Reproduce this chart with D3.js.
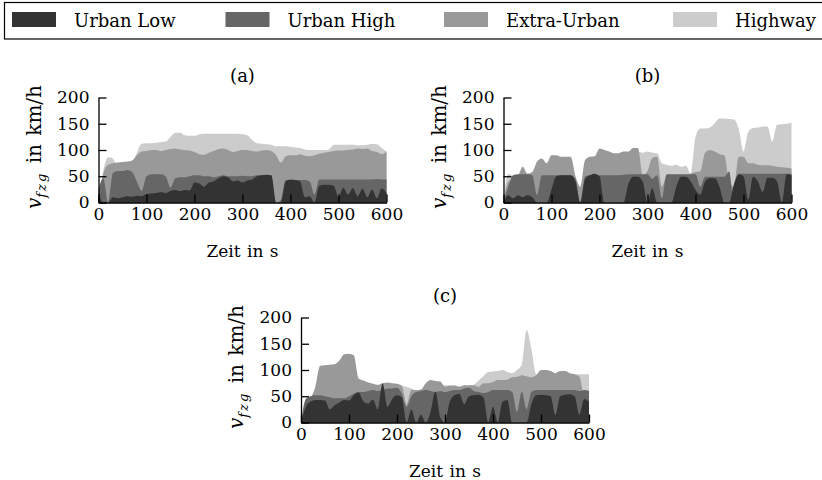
<!DOCTYPE html>
<html>
<head>
<meta charset="utf-8">
<script src="https://d3js.org/d3.v7.min.js"></script>
<style>
  body { margin: 0; background: #fff; }
  svg text { font-family: "DejaVu Serif", serif; fill: #000; }
  .axis .tick text { font-size: 17px; }
  .axis path, .axis line { stroke: #000; stroke-width: 1.3px; }
</style>
</head>
<body>
<svg id="chart" width="822" height="480"></svg>
<script>
// time grid (s), one sample every 10 s
const timeS = [0,10,20,30,40,50,60,70,80,90,100,110,120,130,140,150,160,170,180,190,
  200,210,220,230,240,250,260,270,280,290,300,310,320,330,340,350,360,370,380,390,
  400,410,420,430,440,450,460,470,480,490,500,510,520,530,540,550,560,570,580,590,600];

const seriesNames = ["Urban Low", "Urban High", "Extra-Urban", "Highway"];
const seriesColors = ["#333333", "#666666", "#999999", "#cccccc"];
const xTicks = [0, 100, 200, 300, 400, 500, 600];
const yTicks = [0, 50, 100, 150, 200];

// (a) speed in km/h
const aUrbanLow = [18,0,0,10,8,10,12,11,13,12, 16,17,18,20,18,22,24,22,24,23, 38,36,30,38,40,46,50,48,40,42,
  38,42,44,50,52,53,52,0,0,40, 44,43,40,10,12,0,32,34,34,32, 10,28,15,27,12,26,10,25,8,27, 18];
const aUrbanHigh = [25,46,0,56,60,60,62,58,40,22, 50,54,54,54,50,28,46,48,48,50, 52,52,50,50,48,50,52,50,50,50,
  51,50,50,52,52,51,50,0,5,43, 43,43,43,43,40,15,44,44,44,44, 44,44,44,44,44,44,44,44,45,44, 44];
const aExtraUrban = [0,55,72,75,76,77,78,80,90,97, 98,100,100,98,100,102,103,101,100,99, 96,92,91,95,98,102,103,100,96,98,
  100,100,98,97,99,100,98,90,76,88, 90,90,92,89,88,90,93,95,96,98, 99,99,100,101,103,102,103,98,96,92, 97];
const aHighway = [0,60,86,84,65,68,70,74,95,112, 113,113,114,115,116,125,133,133,128,127, 127,130,131,131,131,131,131,131,131,131,
  130,128,119,113,112,111,110,107,107,107, 106,105,104,101,100,100,100,100,101,110, 110,110,110,110,109,109,110,112,111,104, 97];

// (b)
const bUrbanLow = [0,14,8,14,10,14,10,0,0,0, 25,50,52,52,52,40,0,45,52,55, 50,0,0,0,0,0,35,49,49,40,
  0,27,0,0,0,0,30,49,49,40, 24,15,40,46,46,30,0,0,35,54, 50,5,49,40,20,47,47,40,0,54, 52];
const bUrbanHigh = [0,30,52,54,54,54,52,14,52,52, 52,52,52,52,52,45,0,50,52,52, 52,52,52,52,52,53,54,54,54,54,
  54,45,52,8,54,54,54,54,54,54, 54,30,49,49,49,49,49,59,0,55, 55,55,55,55,55,55,55,55,55,55, 55];
const bExtraUrban = [0,40,45,50,68,55,58,78,84,75, 90,90,87,87,87,50,30,81,87,88, 103,100,97,94,94,97,97,104,104,52,
  60,85,87,30,50,50,50,50,50,55, 58,59,95,100,97,92,90,40,30,87, 87,75,75,72,71,71,70,68,67,66, 65];
const bHighway = [0,55,50,45,50,50,55,60,65,70, 70,72,74,76,76,45,20,70,80,82, 85,85,85,88,88,90,92,95,96,95,
  97,95,94,75,72,70,72,68,70,55, 125,141,141,143,151,160,160,159,158,140, 97,135,142,143,145,145,116,148,149,150, 152];

// (c)
const cUrbanLow = [0,30,40,43,43,42,25,33,38,43, 42,52,57,40,36,44,25,75,30,45, 52,48,0,25,0,15,0,20,59,10,
  0,40,52,55,35,50,52,53,48,0, 30,0,40,43,0,0,0,0,35,52, 53,52,50,14,50,53,54,50,15,45, 40];
const cUrbanHigh = [0,45,50,52,52,50,48,46,46,46, 50,55,58,58,60,62,60,62,65,65, 66,55,30,50,58,60,62,60,58,60,
  58,60,62,62,65,66,60,58,56,58, 62,62,62,62,58,20,58,25,58,62, 62,62,62,62,62,62,62,62,60,62, 60];
const cExtraUrban = [0,20,45,68,108,109,110,111,118,130, 131,128,84,80,76,74,72,75,76,75, 74,70,35,62,62,63,75,81,79,78,
  68,70,70,68,71,71,71,68,75,75, 77,81,81,82,86,87,90,88,86,90, 100,100,98,94,98,98,94,92,87,48, 40];
const cHighway = [0,15,30,40,50,55,60,62,65,66, 68,70,72,72,70,70,68,70,72,73, 72,70,68,65,62,63,66,70,72,72,
  71,71,71,68,68,70,72,80,88,96, 97,98,100,96,94,100,110,176,140,92, 92,92,92,92,92,92,92,92,92,92, 92];

// panel layout
const W = 288, H = 105;
const panels = [
  { label: "(a)", x: 98.5, y: 97.5, series: [aUrbanLow, aUrbanHigh, aExtraUrban, aHighway] },
  { label: "(b)", x: 503.5, y: 97.5, series: [bUrbanLow, bUrbanHigh, bExtraUrban, bHighway] },
  { label: "(c)", x: 301, y: 317.5, series: [cUrbanLow, cUrbanHigh, cExtraUrban, cHighway] }
];

const svg = d3.select("#chart");
svg.append("rect").attr("width", 822).attr("height", 480).attr("fill", "#fff");

// legend
const legendX = [12, 225.5, 444, 673];
const legend = svg.append("g");
legend.append("rect")
    .attr("x", 4.5).attr("y", 2.5)
    .attr("width", 830).attr("height", 36.5)
    .attr("fill", "none").attr("stroke", "#000").attr("stroke-width", 1.2);
seriesNames.forEach((name, i) => {
    legend.append("rect")
        .attr("x", legendX[i]).attr("y", 12)
        .attr("width", 44).attr("height", 15)
        .attr("fill", seriesColors[i]);
    legend.append("text")
        .attr("x", legendX[i] + 62).attr("y", 27)
        .attr("font-size", "18px")
        .text(name);
});

const x = d3.scaleLinear().domain([0, 600]).range([0, W]);
const y = d3.scaleLinear().domain([0, 200]).range([H, 0]);

const area = d3.area()
    .x((d, i) => x(timeS[i]))
    .y0(y(0))
    .y1(d => y(d))
    .curve(d3.curveMonotoneX);

panels.forEach(p => {
    const g = svg.append("g").attr("transform", `translate(${p.x},${p.y})`);

    // back to front: Highway, Extra-Urban, Urban High, Urban Low
    [3, 2, 1, 0].forEach(k => {
        g.append("path")
            .attr("d", area(p.series[k]))
            .attr("fill", seriesColors[k]);
    });

    g.append("g")
        .attr("class", "axis")
        .attr("transform", `translate(0,${H})`)
        .call(d3.axisBottom(x).tickValues(xTicks).tickSizeInner(-8).tickSizeOuter(0).tickPadding(5));

    g.append("g")
        .attr("class", "axis")
        .call(d3.axisLeft(y).tickValues(yTicks).tickSizeInner(-8).tickSizeOuter(0).tickPadding(9));

    g.append("text")
        .attr("x", W / 2).attr("y", -16)
        .attr("text-anchor", "middle")
        .attr("font-size", "18px")
        .text(p.label);

    g.append("text")
        .attr("x", W / 2).attr("y", H + 54)
        .attr("text-anchor", "middle")
        .attr("font-size", "17px")
        .attr("word-spacing", "1px")
        .text("Zeit in s");

    const yl = g.append("text")
        .attr("transform", `translate(-58,${H / 2 - 3}) rotate(-90)`)
        .attr("text-anchor", "middle")
        .attr("font-size", "20px");
    yl.append("tspan").attr("font-style", "italic").text("v");
    yl.append("tspan").attr("font-style", "italic").attr("font-size", "13px")
        .attr("letter-spacing", "2px").attr("dy", 5).text("fzg");
    yl.append("tspan").attr("dy", -5).attr("word-spacing", "2px").text(" in km/h");
});
</script>
</body>
</html>
